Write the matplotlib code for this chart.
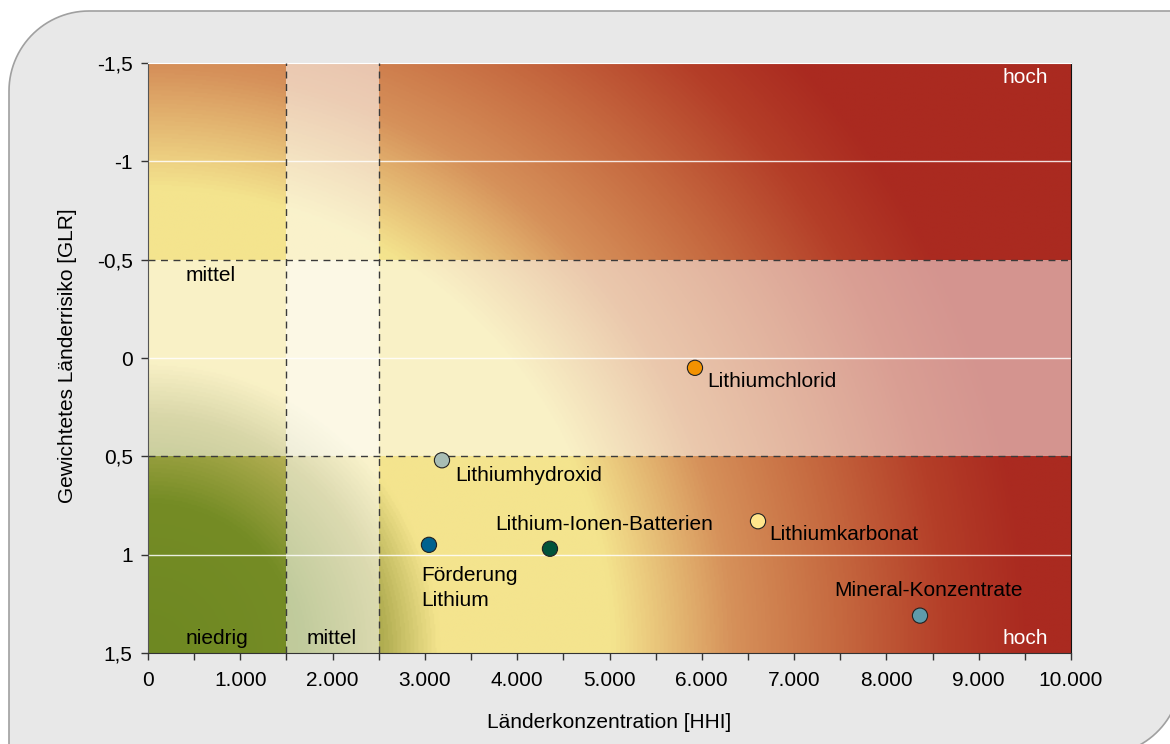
import numpy as np
import matplotlib
matplotlib.use('Agg')
import matplotlib.pyplot as plt
from matplotlib.colors import LinearSegmentedColormap
from matplotlib.patches import Polygon
from matplotlib.ticker import FuncFormatter, MultipleLocator

plt.rcParams['font.family'] = ['Liberation Sans', 'DejaVu Sans']

# data
names = ['Lithiumchlorid', 'Lithiumhydroxid', 'Förderung\nLithium',
         'Lithium-Ionen-Batterien', 'Lithiumkarbonat', 'Mineral-Konzentrate']
hhi = [5926, 3185, 3044, 4355, 6609, 8364]
glr = [0.05, 0.52, 0.95, 0.97, 0.83, 1.31]
colors = ['#F39200', '#A8BDB5', '#00628F', '#00533A', '#FFE68C', '#5E9BAA']

# label placement (data coords)
label_xy = [(6060, 0.12), (3330, 0.595), (2960, 1.17),
            (3760, 0.845), (6730, 0.90), (7440, 1.18)]

fig = plt.figure(figsize=(11.7, 7.44), dpi=100)

# grey frame, rounded at top-left and bottom-right only (inches)
x0, x1, yb, yt, r = 0.09, 11.81, -0.11, 7.33, 0.8
a1 = np.linspace(np.pi, np.pi/2, 30)
a2 = np.linspace(0, -np.pi/2, 30)
pts = [(x0, yb), (x0, yt - r)]
pts += list(zip(x0 + r + r*np.cos(a1), yt - r + r*np.sin(a1)))
pts += [(x1, yt), (x1, yb + r)]
pts += list(zip(x1 - r + r*np.cos(a2), yb + r + r*np.sin(a2)))
frame = Polygon(pts, closed=True, transform=fig.dpi_scale_trans,
                facecolor='#E8E8E8', edgecolor='#A0A0A0', linewidth=1.2, zorder=-10)
fig.patches.append(frame)

ax = fig.add_axes([148/1170, 1-653/744, (1071-148)/1170, (653-63)/744])

# background gradient (radial from bottom-left corner, in pixel distance)
W, H = 923, 590
U, V = np.meshgrid(np.linspace(0, 1, 700), np.linspace(0, 1, 450))
dist = np.hypot(U*W, V*H)
stops = [(0, '#6E8822'), (150, '#758C25'), (235, '#B2AE52'), (290, '#F4E48E'),
         (465, '#F4E48E'), (585, '#D6915A'), (690, '#C66A40'), (800, '#B43E28'),
         (880, '#AA2A20'), (1100, '#AA2A20')]
cmap = LinearSegmentedColormap.from_list('risk', [(p/1100, c) for p, c in stops])
ax.imshow(dist, cmap=cmap, vmin=0, vmax=1100, origin='lower',
          extent=[0, 10000, 1.5, -1.5], aspect='auto', interpolation='bilinear', zorder=0)

# "mittel" bands
ax.axvspan(1500, 2500, color='white', alpha=0.55, lw=0, zorder=1)
ax.axhspan(-0.5, 0.5, color='white', alpha=0.5, lw=0, zorder=1)

for yy in [-1, 0, 1]:
    ax.axhline(yy, color='white', lw=1, alpha=0.85, zorder=2)
for xx in [1500, 2500]:
    ax.axvline(xx, color='#3A3A3A', lw=1, ls=(0, (5, 4)), zorder=3)
for yy in [-0.5, 0.5]:
    ax.axhline(yy, color='#3A3A3A', lw=1, ls=(0, (5, 4)), zorder=3)

ax.scatter(hhi, glr, s=120, c=colors, edgecolors='#222222', linewidths=0.8, zorder=5)
for name, (tx, ty) in zip(names, label_xy):
    ax.text(tx, ty, name, fontsize=15, ha='left', va='center', linespacing=1.35, zorder=6)

ax.text(9500, -1.425, 'hoch', color='white', fontsize=15, ha='center', va='center')
ax.text(9500, 1.425, 'hoch', color='white', fontsize=15, ha='center', va='center')
ax.text(680, -0.42, 'mittel', fontsize=15, ha='center', va='center')
ax.text(750, 1.425, 'niedrig', fontsize=15, ha='center', va='center')
ax.text(1985, 1.425, 'mittel', fontsize=15, ha='center', va='center')

ax.set_xlim(0, 10000)
ax.set_ylim(1.5, -1.5)
ax.xaxis.set_major_locator(MultipleLocator(1000))
ax.xaxis.set_minor_locator(MultipleLocator(500))
ax.yaxis.set_major_locator(MultipleLocator(0.5))
ax.xaxis.set_major_formatter(FuncFormatter(lambda v, p: f'{int(round(v)):,}'.replace(',', '.')))
ax.yaxis.set_major_formatter(FuncFormatter(lambda v, p: f'{v:g}'.replace('.', ',')))
ax.tick_params(axis='both', which='both', direction='out', length=5, width=1,
               color='#333333', labelsize=15, pad=6)
ax.tick_params(axis='x', which='both', pad=8)

ax.spines['left'].set_color('#555555')
ax.spines['bottom'].set_color('#333333')
ax.spines['right'].set_color('#111111')
ax.spines['top'].set_color('white')

fig.text(609.5/1170, 1-722/744, 'Länderkonzentration [HHI]', fontsize=15, ha='center', va='center')
fig.text(68/1170, 1-356/744, 'Gewichtetes Länderrisiko [GLR]', fontsize=15,
         ha='center', va='center', rotation=90)

fig.savefig('out.png', dpi=100)
